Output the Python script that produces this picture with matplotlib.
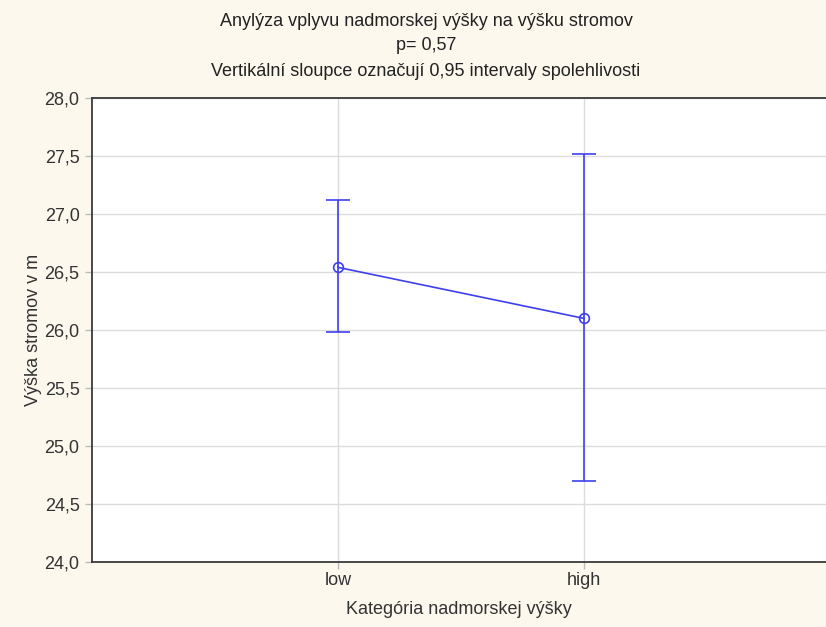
import matplotlib
matplotlib.use("Agg")
import matplotlib.pyplot as plt
from matplotlib.ticker import FuncFormatter, MultipleLocator

categories = ["low", "high"]
means = [26.54, 26.10]
ci_lower = [25.98, 24.70]
ci_upper = [27.12, 27.52]

plt.rcParams["font.family"] = ["Liberation Sans", "DejaVu Sans"]

bg = "#fdf8ee"
blue = "#3f3ff0"
fs = 13

fig = plt.figure(figsize=(8.26, 6.27), dpi=100, facecolor=bg)
ax = fig.add_axes([92 / 826, 1 - 562 / 627, 1 - 92 / 826, (562 - 98) / 627])
ax.set_facecolor("white")

x = list(range(1, len(categories) + 1))
yerr = [[m - lo for m, lo in zip(means, ci_lower)],
        [hi - m for m, hi in zip(means, ci_upper)]]
ax.errorbar(x, means, yerr=yerr, color=blue, lw=1.2, marker="o", ms=7,
            mfc="none", mec=blue, mew=1.2, capsize=8.5, capthick=1.2, zorder=3)

ax.set_xlim(0, (826 - 92) / 246)
ax.set_ylim(24, 28)
ax.set_xticks(x)
ax.set_xticklabels(categories)
ax.yaxis.set_major_locator(MultipleLocator(0.5))
ax.yaxis.set_major_formatter(FuncFormatter(lambda v, p: f"{v:.1f}".replace(".", ",")))

ax.grid(True, color="#dcdcdc", lw=1.0)
ax.set_axisbelow(True)
for side in ["left", "bottom", "top"]:
    ax.spines[side].set_color("#3a3a3a")
    ax.spines[side].set_linewidth(1.3)
ax.spines["right"].set_visible(False)
ax.tick_params(axis="both", direction="out", length=5, width=1, color="#bbbbbb",
               labelsize=fs, labelcolor="#333333", pad=4)
ax.tick_params(axis="x", pad=2)

ax.set_ylabel("Výška stromov v m", fontsize=fs, color="#333333", labelpad=2)
ax.set_xlabel("Kategória nadmorskej výšky", fontsize=fs, color="#333333", labelpad=9)

cx = 426 / 826
fig.text(cx, 1 - 22 / 627, "Anylýza vplyvu nadmorskej výšky na výšku stromov",
         ha="center", va="center", fontsize=fs, color="#222222")
fig.text(cx, 1 - 46 / 627, "p= 0,57", ha="center", va="center",
         fontsize=fs, color="#222222")
fig.text(cx, 1 - 71 / 627, "Vertikální sloupce označují 0,95 intervaly spolehlivosti",
         ha="center", va="center", fontsize=fs, color="#222222")

fig.savefig("out.png", dpi=100, facecolor=bg)
